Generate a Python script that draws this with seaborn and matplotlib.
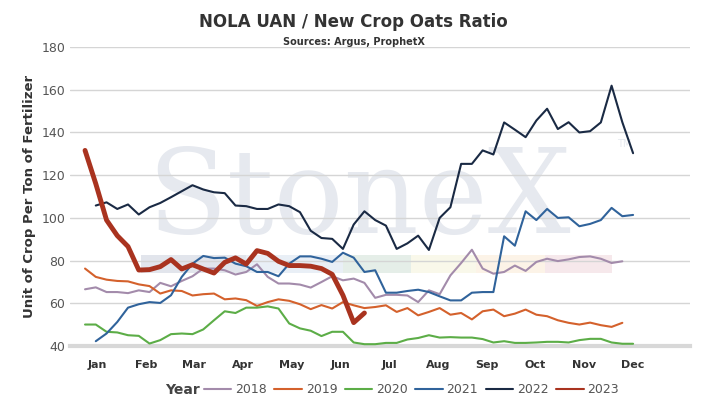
import matplotlib
matplotlib.use("Agg")
import matplotlib.pyplot as plt
import numpy as np
import pandas as pd
import seaborn as sns
from matplotlib.patches import Rectangle

# weekly ratios (week index 0 = start of Jan)
y2018 = [66.6, 67.5, 65.3, 65.3, 64.8, 66.1, 65.3, 69.6, 68.0, 70.5, 72.7, 76.3, 76.3,
         75.5, 73.5, 74.7, 78.3, 72.4, 69.3, 69.3, 68.8, 67.4, 70.0, 72.7, 70.8, 71.6,
         69.6, 62.6, 64.0, 64.0, 63.7, 60.6, 66.1, 64.3, 73.1, 78.9, 85.1, 76.3, 73.9,
         74.7, 77.7, 75.2, 79.4, 80.9, 79.8, 80.6, 81.7, 82.0, 80.9, 78.9, 79.7]
y2019 = [76.3, 72.4, 71.1, 70.5, 70.3, 68.9, 68.1, 64.6, 66.1, 65.8, 63.7, 64.3, 64.6,
         61.9, 62.3, 61.5, 58.8, 60.6, 61.9, 61.2, 59.6, 57.3, 59.2, 57.6, 60.6, 59.1,
         57.8, 58.3, 59.1, 56.0, 57.8, 54.4, 56.0, 57.8, 54.7, 55.5, 52.5, 56.3, 57.1,
         54.0, 55.2, 57.1, 54.7, 54.0, 52.1, 50.9, 50.1, 51.0, 49.8, 49.0, 50.9]
y2020 = [50.1, 50.1, 46.7, 46.4, 45.1, 44.8, 41.2, 42.8, 45.6, 45.9, 45.6, 47.8, 52.1,
         56.3, 55.5, 58.0, 58.0, 58.6, 57.6, 50.6, 48.3, 47.2, 44.7, 46.7, 46.7, 41.7,
         40.9, 40.9, 41.5, 41.5, 43.1, 43.8, 45.1, 44.0, 44.2, 44.0, 44.0, 43.3, 41.7,
         42.3, 41.5, 41.5, 41.7, 42.0, 42.0, 41.7, 42.8, 43.4, 43.4, 41.7, 41.1, 41.1]
y2021 = [42.3, 45.9, 51.3, 58.0, 59.6, 60.6, 60.2, 63.8, 72.4, 78.6, 82.2, 81.2, 81.4,
         78.6, 77.4, 74.7, 74.7, 72.7, 78.6, 82.0, 82.0, 80.9, 79.4, 83.7, 81.4, 74.7,
         75.5, 65.0, 65.0, 65.8, 66.4, 65.3, 63.3, 61.4, 61.4, 65.0, 65.3, 65.3, 91.4,
         87.0, 103.1, 99.0, 104.2, 100.0, 100.3, 96.1, 97.2, 99.0, 104.7, 100.8, 101.4]
y2022 = [105.8, 107.3, 104.2, 106.3, 101.6, 105.0, 107.0, 109.7, 112.5, 115.3, 113.3,
         112.0, 111.6, 105.8, 105.5, 104.2, 104.2, 106.3, 105.5, 102.7, 94.0, 90.6, 90.2,
         85.5, 96.9, 103.1, 99.0, 96.4, 85.5, 88.1, 91.7, 85.0, 100.0, 105.0, 125.3, 125.3,
         131.6, 129.7, 144.7, 141.3, 137.8, 145.6, 151.1, 141.6, 144.8, 140.0, 140.6,
         144.7, 161.9, 144.8, 130.3]
y2023 = [131.6, 116.0, 99.0, 91.7, 86.6, 75.6, 75.8, 77.2, 80.5, 76.1, 78.1, 76.1, 74.2,
         79.2, 81.3, 78.4, 84.7, 83.4, 79.7, 77.7, 77.7, 77.4, 76.3, 73.6, 63.8, 51.0, 55.5]
starts = {"2018": 0, "2019": 0, "2020": 0, "2021": 1, "2022": 1, "2023": 0}
series = {"2018": y2018, "2019": y2019, "2020": y2020,
          "2021": y2021, "2022": y2022, "2023": y2023}
months = ["Jan", "Feb", "Mar", "Apr", "May", "Jun", "Jul", "Aug", "Sep", "Oct", "Nov", "Dec"]

colors = {"2018": "#a38bab", "2019": "#d4612c", "2020": "#5cad47",
          "2021": "#30639b", "2022": "#1a2a44", "2023": "#a9331f"}

rows = []
for yr, vals in series.items():
    for i, v in enumerate(vals):
        rows.append({"week": starts[yr] + i, "ratio": v, "Year": yr})
df = pd.DataFrame(rows)

sns.set_theme(style="white")
plt.rcParams["font.family"] = ["DejaVu Sans"]

fig = plt.figure(figsize=(7.07, 4.16), dpi=100)
ax = fig.add_axes([0.099, 0.168, 0.877, 0.719])

# watermark
ax.text(25.5, 108, "StoneX", fontsize=84, family="DejaVu Serif", color="#e6e9ef",
        ha="center", va="center", zorder=0)
ax.text(49.5, 133, "TM", fontsize=7, color="#e6e9ef", zorder=0)
bands = [(5.2, 15, "#e2e5ec"), (15, 24, "#e9eff6"), (24, 30.3, "#e5eee8"),
         (30.3, 36.4, "#f9f8ea"), (36.4, 42.8, "#fcf3e7"), (42.8, 49, "#f6e8eb")]
for x0, x1, c in bands:
    ax.add_patch(Rectangle((x0, 74.2), x1 - x0, 8.3, color=c, zorder=0, lw=0))

sns.lineplot(data=df[df["Year"] != "2023"], x="week", y="ratio", hue="Year",
             palette=colors, ax=ax, linewidth=1.5, zorder=3, legend=False)
sns.lineplot(data=df[df["Year"] == "2023"], x="week", y="ratio", hue="Year",
             palette=colors, ax=ax, linewidth=3.5, zorder=4, legend=False)

ax.set_xlim(-1.4, 56.3)
ax.set_ylim(40, 180)
ax.set_yticks(range(40, 181, 20))
ax.yaxis.grid(True, color="#d5d5d5", linewidth=1)
ax.set_xticks(1.12 + 4.53 * np.arange(12))
ax.set_xticklabels(months, fontsize=8, fontweight="bold", color="#333")
ax.tick_params(axis="x", length=0, pad=10)
ax.tick_params(axis="y", length=0, labelsize=9, labelcolor="#555")
for s in ["top", "right", "left"]:
    ax.spines[s].set_visible(False)
ax.spines["bottom"].set_color("#d8d8d8")
ax.spines["bottom"].set_linewidth(3)
ax.set_xlabel("")
ax.set_ylabel("Unit of Crop Per Ton of Fertilizer", fontsize=9.5, fontweight="bold",
              color="#333")

fig.text(0.5, 0.935, "NOLA UAN / New Crop Oats Ratio", ha="center", fontsize=12,
         fontweight="bold", color="#333")
fig.text(0.5, 0.892, "Sources: Argus, ProphetX", ha="center", fontsize=7,
         fontweight="bold", color="#333")

h = [plt.Line2D([], [], color=colors[y], lw=1.5) for y in series]
leg = fig.legend(h, list(series), loc="center", bbox_to_anchor=(0.582, 0.063), ncol=6,
                 frameon=False, fontsize=9, handlelength=2.2, columnspacing=0.6,
                 handletextpad=0.3)
for t in leg.get_texts():
    t.set_color("#555")
fig.text(0.233, 0.063, "Year", fontsize=10, fontweight="bold", color="#444",
         va="center")

fig.savefig("out.png", dpi=100, facecolor="white")
